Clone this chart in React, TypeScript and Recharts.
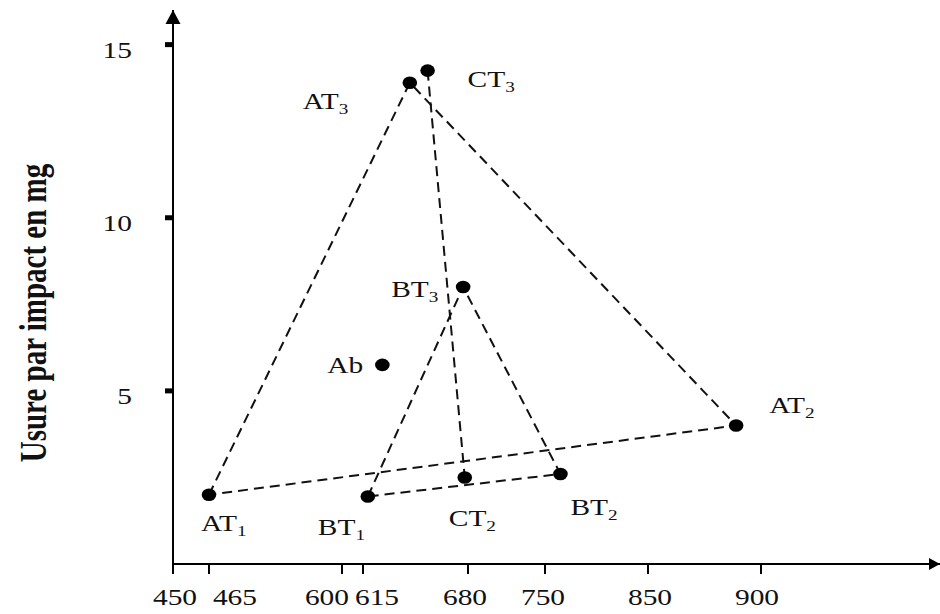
import { ReferenceDot, Scatter, ScatterChart, XAxis, YAxis } from "recharts";

// temperature (°C) and wear per impact (mg)
const pointNames = ["AT1", "AT2", "AT3", "BT1", "BT2", "BT3", "CT2", "CT3", "Ab"];
const temperature = [465, 889, 644, 618, 765, 677, 678, 655, 627];
const wearMg = [2.0, 4.0, 13.9, 1.95, 2.6, 8.0, 2.5, 14.25, 5.75];

const xTicks = [450, 465, 600, 615, 680, 750, 850, 900];
const yTicks = [5, 10, 15];

// dashed outlines joining the points
const triangleA = ["AT1", "AT3", "AT2", "AT1"];
const triangleB = ["BT1", "BT3", "BT2", "BT1"];
const segmentC = ["CT3", "CT2"];

const points = pointNames.map((name, i) => ({ name, t: temperature[i], w: wearMg[i] }));
const pick = (names: string[]) => names.map((n) => points.find((p) => p.name === n)!);

// the original x axis is not proportional: piecewise scale through its ticks
const axisStops = [450, 465, 600, 615, 680, 750, 850, 900, 1000];
const axisFrac = [0, 0.0469, 0.2203, 0.2477, 0.3846, 0.485, 0.6193, 0.7666, 1];

function figureScale(): any {
  let dom: number[] = [axisStops[0], axisStops[axisStops.length - 1]];
  let rng: number[] = [0, 1];
  const s: any = (v: number) => {
    let i = 1;
    while (i < axisStops.length - 1 && v > axisStops[i]) i++;
    const k = (v - axisStops[i - 1]) / (axisStops[i] - axisStops[i - 1]);
    const f = axisFrac[i - 1] + k * (axisFrac[i] - axisFrac[i - 1]);
    return rng[0] + f * (rng[1] - rng[0]);
  };
  s.domain = (d?: number[]) => {
    if (d === undefined) return dom;
    dom = d.slice();
    return s;
  };
  s.range = (r?: number[]) => {
    if (r === undefined) return rng;
    rng = r.slice();
    return s;
  };
  s.copy = () => figureScale().domain(dom).range(rng);
  s.ticks = () => xTicks;
  s.tickFormat = () => (v: number) => String(v);
  return s;
}

const FONT = "'Liberation Serif', 'Times New Roman', serif";
const STRETCH = 1.28;

// label placement (left edge, baseline) relative to each point
const labelAt: Record<string, [number, number]> = {
  AT1: [-8, 36],
  AT2: [33, -13],
  AT3: [-107, 26],
  BT1: [-50, 39],
  BT2: [10, 41],
  BT3: [-72, 10],
  CT2: [-16, 49],
  CT3: [40, 16],
  Ab: [-55, 8],
};
const xLabelShift: Record<number, number> = { 450: 2, 465: 26, 600: -15, 615: 14, 680: -3, 750: -2, 850: 2, 900: -4 };

const dash = { stroke: "#111", strokeWidth: 2, strokeDasharray: "10 6" };

function PointMark(props: any) {
  const { cx, cy, payload } = props;
  const [dx, dy] = labelAt[payload.name] ?? [10, 0];
  const base = payload.name.replace(/\d+$/, "");
  const sub = payload.name.slice(base.length);
  return (
    <g>
      <ellipse cx={cx} cy={cy} rx={7.3} ry={6.3} fill="#000" />
      <text
        transform={`translate(${cx + dx} ${cy + dy}) scale(${STRETCH} 1)`}
        fontFamily={FONT}
        fontSize={23}
        fill="#111"
      >
        {base}
        {sub && (
          <tspan fontSize={15} dy={5}>
            {sub}
          </tspan>
        )}
      </text>
    </g>
  );
}

const noMark = () => <g />;

function XTick(props: any) {
  const { x, y, payload } = props;
  const cx = x + (xLabelShift[payload.value] ?? 0);
  return (
    <text
      transform={`translate(${cx} ${y + 29}) scale(${STRETCH} 1)`}
      textAnchor="middle"
      fontFamily={FONT}
      fontSize={23}
      fill="#111"
    >
      {payload.value}
    </text>
  );
}

function YTick(props: any) {
  const { x, y, payload } = props;
  return (
    <text
      transform={`translate(${x - 31} ${y + 13}) scale(${STRETCH} 1)`}
      textAnchor="end"
      fontFamily={FONT}
      fontSize={23}
      fill="#111"
    >
      {payload.value}
    </text>
  );
}

function YTitle(props: any) {
  const vb = props.viewBox ?? { x: 0, y: 10, width: 173, height: 554 };
  const cy = vb.y + vb.height / 2 + 26;
  return (
    <text
      transform={`translate(46 ${cy}) scale(${STRETCH} 1) rotate(-90)`}
      textAnchor="middle"
      fontFamily={FONT}
      fontWeight="bold"
      fontSize={29}
      fill="#111"
    >
      Usure par impact en mg
    </text>
  );
}

const arrowRight = (p: any) => (
  <polygon points={`${p.cx},${p.cy} ${p.cx - 11},${p.cy - 6} ${p.cx - 11},${p.cy + 6}`} fill="#000" />
);
const arrowUp = (p: any) => (
  <polygon points={`${p.cx},${p.cy} ${p.cx - 7.5},${p.cy + 14} ${p.cx + 7.5},${p.cy + 14}`} fill="#000" />
);

export default function App() {
  return (
    <div style={{ position: "absolute", left: 0, top: 0, width: 940, height: 614, background: "#fff" }}>
      <ScatterChart width={940} height={614} margin={{ top: 10, right: 0, bottom: 0, left: 0 }}>
        <XAxis
          type="number"
          dataKey="t"
          domain={[450, 1000]}
          scale={figureScale()}
          ticks={xTicks}
          interval={0}
          height={50}
          tickSize={10}
          axisLine={{ stroke: "#000", strokeWidth: 2 }}
          tickLine={{ stroke: "#000", strokeWidth: 2 }}
          tick={XTick}
        />
        <YAxis
          type="number"
          dataKey="w"
          domain={[0, 16]}
          ticks={yTicks}
          interval={0}
          width={173}
          tickSize={8}
          axisLine={{ stroke: "#000", strokeWidth: 2 }}
          tickLine={{ stroke: "#000", strokeWidth: 5 }}
          tick={YTick}
          label={<YTitle />}
        />
        <Scatter data={pick(triangleA)} line={dash} shape={noMark} isAnimationActive={false} />
        <Scatter data={pick(triangleB)} line={dash} shape={noMark} isAnimationActive={false} />
        <Scatter data={pick(segmentC)} line={dash} shape={noMark} isAnimationActive={false} />
        <Scatter data={points} shape={PointMark} isAnimationActive={false} />
        <ReferenceDot x={1000} y={0} ifOverflow="visible" shape={arrowRight} />
        <ReferenceDot x={450} y={16} ifOverflow="visible" shape={arrowUp} />
      </ScatterChart>
    </div>
  );
}
